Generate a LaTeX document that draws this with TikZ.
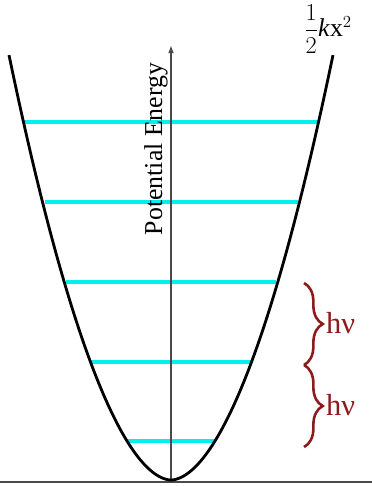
\documentclass[tikz,border=0pt]{standalone}
\usepackage{fontspec}
\setmainfont{Liberation Serif}
\usepackage{amsmath}
\usepackage{tikz}
\usetikzlibrary{arrows.meta,decorations.pathreplacing}
\definecolor{seviyeMavi}{HTML}{00F0F0}
\definecolor{parantezKirmizi}{HTML}{8E1B1B}
\definecolor{eksenGri}{HTML}{4A4A4A}

\begin{document}
\begin{tikzpicture}[x=0.03cm,y=-0.03cm]
\useasboundingbox (0,0) rectangle (372,486);
\tikzset{parantez/.style={parantezKirmizi,line width=2.2pt,decorate,
  decoration={brace,amplitude=16pt}}}
% seviyeler: y / yarim genislik
\foreach \yy/\hw in {122/147.5,202/126.5,282/105,362/80,441/44}
  \draw[seviyeMavi,line width=3.4pt] (171-\hw,\yy)--(171+\hw,\yy);
\draw[eksenGri,line width=1.2pt] (0,482)--(372,482);
\draw[eksenGri,line width=1.2pt,-{Latex[length=7pt,width=5pt]}] (171,482)--(171,45);
% parabol: y = 480 - 39 (|x-171|/44)^1.83
\draw[line width=2.4pt,line join=round]
  plot[domain=162:0.5,samples=80] ({171-\x},{480-39*pow(\x/44,1.8325)})
  -- plot[domain=0.5:162,samples=80] ({171+\x},{480-39*pow(\x/44,1.8325)});
\node[rotate=90,font=\fontsize{22}{24}\selectfont] (enerji) at (156,149) {Potential Energy};
\node[font=\fontsize{22}{24}\selectfont,inner sep=1pt] (formul) at (328,29)
  {$\dfrac{1}{2}$\textit{k}x$^{2}$};
\coordinate (p1) at (304,283);
\coordinate (p2) at (304,365);
\coordinate (p3) at (304,447);
\draw[parantez] (p1)--(p2);
\draw[parantez] (p2)--(p3);
\node[parantezKirmizi,anchor=west,font=\fontsize{26}{28}\selectfont] (hv1) at (322,323) {hν};
\node[parantezKirmizi,anchor=west,font=\fontsize{26}{28}\selectfont] (hv2) at (322,405) {hν};
\end{tikzpicture}
\end{document}
